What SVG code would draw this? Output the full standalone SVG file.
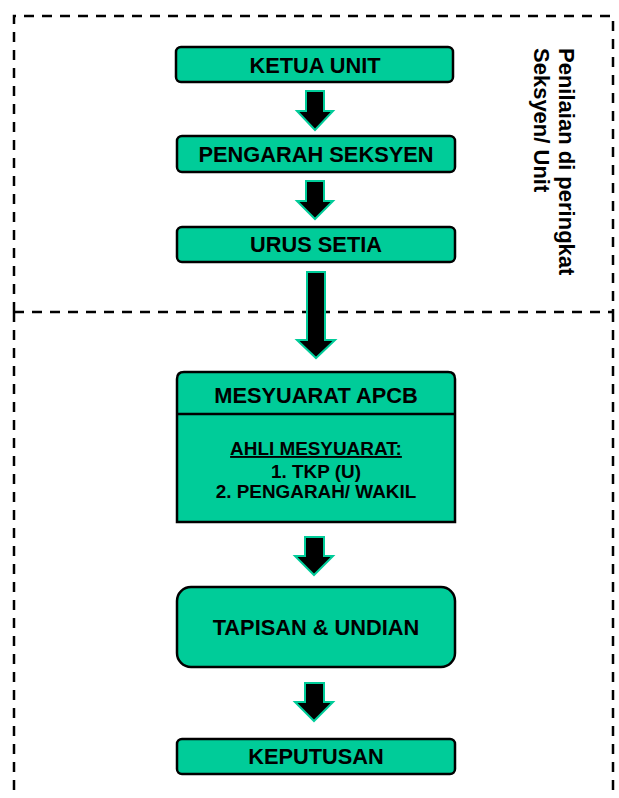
<svg xmlns="http://www.w3.org/2000/svg" width="619" height="798" viewBox="0 0 619 798">
<style>
.box{fill:#00CC99;stroke:#000;stroke-width:2.5}
.t{font-family:"Liberation Sans",Arial,sans-serif;font-weight:bold;font-size:21.8px;fill:#000;text-anchor:middle}
.s{font-family:"Liberation Sans",Arial,sans-serif;font-weight:bold;font-size:18.9px;fill:#000;text-anchor:middle}
.v{font-family:"Liberation Sans",Arial,sans-serif;font-weight:bold;font-size:22px;fill:#000}
.dash{fill:none;stroke:#000;stroke-width:2.5;stroke-dasharray:10 8}
.arr{fill:#000;stroke:#00CC99;stroke-width:2;stroke-linejoin:miter}
</style>
<g id="frame">
<path class="dash" d="M14,312 V16 H613 V312"/>
<path class="dash" d="M14,312 H613"/>
<path class="dash" d="M14,312 V798"/>
<path class="dash" d="M613,312 V798"/>
</g>
<g id="label">
<text class="v" transform="translate(559,48) rotate(90)">Penilaian di peringkat</text>
<text class="v" transform="translate(534,48) rotate(90)">Seksyen/ Unit</text>
</g>
<g id="connectors">
<path class="arr" d="M306,91 H324 V111 H333 L315,130 L297,111 H306 Z"/>
<path class="arr" d="M306,181 H324 V201 H333 L315,219 L297,201 H306 Z"/>
<path class="arr" d="M307,272 H325 V340 H335 L316,358 L297,340 H307 Z"/>
<path class="arr" d="M305,537 H324 V556 H333 L314,575 L295,556 H305 Z"/>
<path class="arr" d="M305,683 H324 V702 H333 L314,721 L295,702 H305 Z"/>
</g>
<g id="ketua">
<rect class="box" x="176" y="47" width="277" height="35" rx="5"/>
<text class="t" x="315" y="73">KETUA UNIT</text>
</g>
<g id="pengarah">
<rect class="box" x="177" y="136" width="278" height="36" rx="5"/>
<text class="t" x="316" y="162">PENGARAH SEKSYEN</text>
</g>
<g id="urus">
<rect class="box" x="177" y="227" width="278" height="35" rx="5"/>
<text class="t" x="316" y="252">URUS SETIA</text>
</g>
<g id="mesyuarat">
<path class="box" d="M177,522 V379 Q177,372 184,372 H448 Q455,372 455,379 V522 Z"/>
<line x1="177" y1="414" x2="455" y2="414" stroke="#000" stroke-width="2.5"/>
<text class="t" x="316" y="403">MESYUARAT APCB</text>
<text class="s" x="316" y="455" text-decoration="underline">AHLI MESYUARAT:</text>
<text class="s" x="316" y="478">1. TKP (U)</text>
<text class="s" x="316" y="498">2. PENGARAH/ WAKIL</text>
</g>
<g id="tapisan">
<rect class="box" x="177" y="587" width="278" height="80" rx="14"/>
<text class="t" x="316" y="635">TAPISAN &amp; UNDIAN</text>
</g>
<g id="keputusan">
<rect class="box" x="177" y="739" width="278" height="35" rx="5"/>
<text class="t" x="316" y="764">KEPUTUSAN</text>
</g>
</svg>
